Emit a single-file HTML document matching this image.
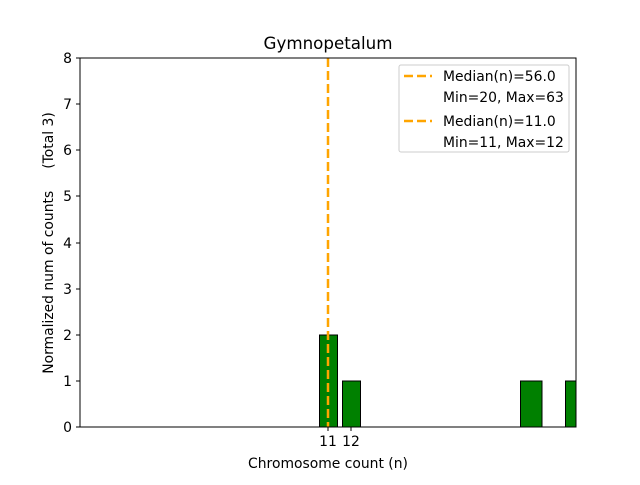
<!DOCTYPE html><html><head><style>body{margin:0;background:#fff}</style></head><body>
<svg width="640" height="480" xmlns="http://www.w3.org/2000/svg" font-family="DejaVu Sans, Liberation Sans, sans-serif" font-size="13.9">
<rect width="640" height="480" fill="#fff"/>
<defs><clipPath id="c"><rect x="80" y="58" width="496" height="369"/></clipPath></defs>
<g fill="#008000" stroke="#000" stroke-width="1" clip-path="url(#c)">
<rect x="319.5" y="335" width="18" height="92"/>
<rect x="342.5" y="381" width="18" height="46"/>
<rect x="520.5" y="381" width="21.5" height="46"/>
<rect x="565.5" y="381" width="14" height="46"/>
</g>
<line x1="328" y1="58" x2="328" y2="427" stroke="#FFA500" stroke-width="2.5" stroke-dasharray="9,4"/>
<rect x="80" y="58" width="496" height="369" fill="none" stroke="#000" stroke-width="1"/>
<g stroke="#000">
<line x1="76" x2="80" y1="427" y2="427"/><line x1="76" x2="80" y1="381" y2="381"/><line x1="76" x2="80" y1="335" y2="335"/><line x1="76" x2="80" y1="289" y2="289"/><line x1="76" x2="80" y1="243" y2="243"/><line x1="76" x2="80" y1="196" y2="196"/><line x1="76" x2="80" y1="150" y2="150"/><line x1="76" x2="80" y1="104" y2="104"/><line x1="76" x2="80" y1="58" y2="58"/>
<line x1="328" x2="328" y1="427" y2="431"/><line x1="351" x2="351" y1="427" y2="431"/>
</g>
<g text-anchor="end">
<text x="72" y="432">0</text><text x="72" y="386">1</text><text x="72" y="340">2</text><text x="72" y="294">3</text><text x="72" y="248">4</text><text x="72" y="201">5</text><text x="72" y="155">6</text><text x="72" y="109">7</text><text x="72" y="63">8</text>
</g>
<text x="328" y="446" text-anchor="middle">11</text><text x="351" y="446" text-anchor="middle">12</text>
<text x="328" y="468" text-anchor="middle">Chromosome count (n)</text>
<text x="328" y="49" text-anchor="middle" font-size="16.7">Gymnopetalum</text>
<text transform="translate(53,243) rotate(-90)" text-anchor="middle" xml:space="preserve">Normalized num of counts     (Total 3)</text>
<rect x="399" y="65" width="170" height="87" rx="2" fill="#fff" stroke="#ccc"/>
<g stroke="#FFA500" stroke-width="2.5" stroke-dasharray="9,4"><line x1="404" x2="432" y1="76" y2="76"/><line x1="404" x2="432" y1="121" y2="121"/></g>
<text x="443" y="81">Median(n)=56.0</text><text x="443" y="102">Min=20, Max=63</text>
<text x="443" y="126">Median(n)=11.0</text><text x="443" y="147">Min=11, Max=12</text>
</svg></body></html>
